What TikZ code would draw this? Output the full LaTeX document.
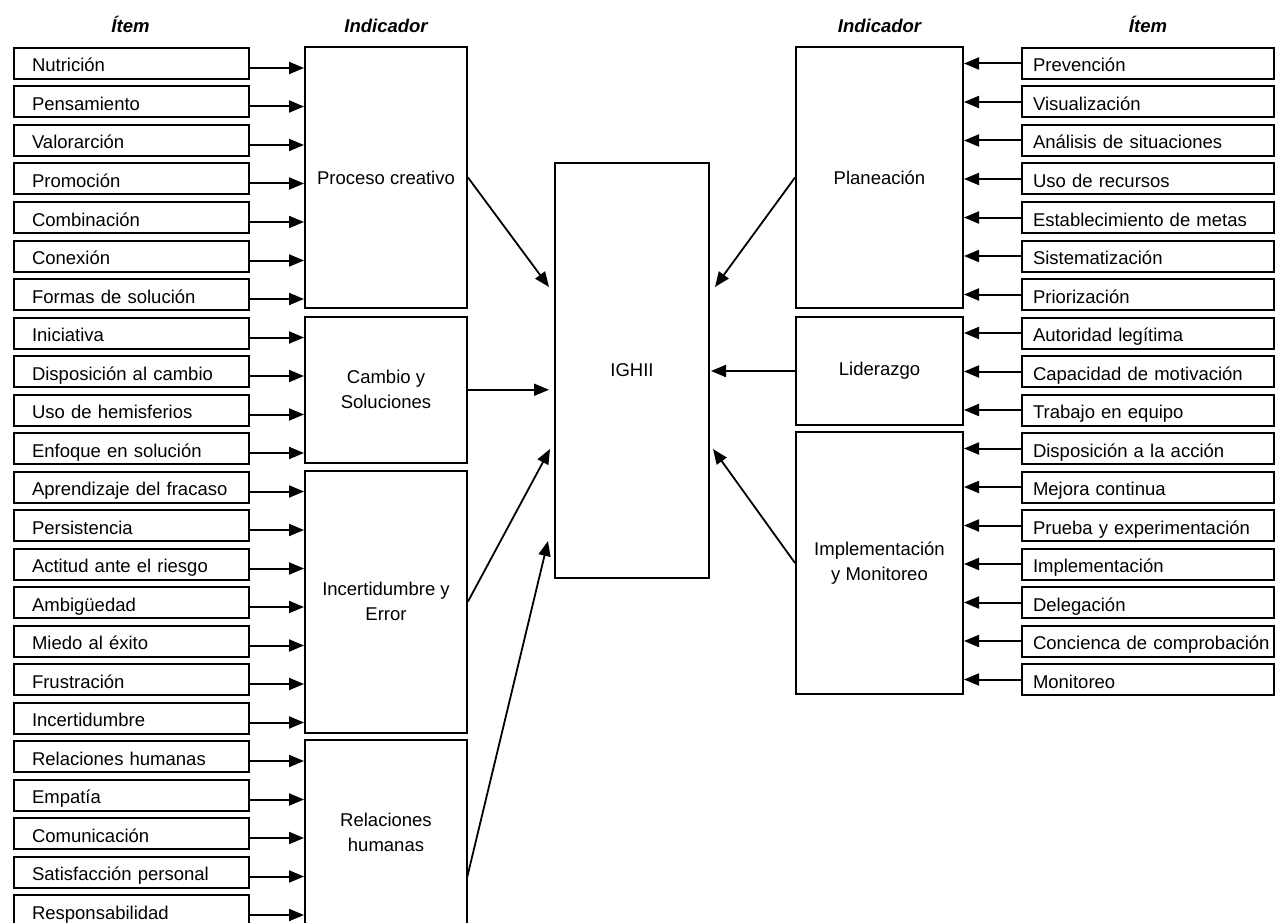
\documentclass[tikz,border=0pt]{standalone}
\usepackage{fontspec}
\setmainfont{Liberation Sans}
\usetikzlibrary{arrows.meta}
\begin{document}
\begin{tikzpicture}[x=1pt,y=-1pt,
  box/.style={draw, line width=2pt},
  lbl/.style={font=\fontsize{18.5}{25}\selectfont},
  itemL/.style={box, lbl, anchor=north west, minimum height=31pt, inner ysep=0pt, inner xsep=18pt, text width=199pt, align=left, text height=19pt, text depth=2pt},
  itemR/.style={box, lbl, anchor=north west, minimum height=31pt, inner ysep=0pt, inner xsep=11pt, text width=230pt, align=left, text height=19pt, text depth=2pt},
  ind/.style={box, lbl, align=center, inner sep=0pt},
  hdr/.style={anchor=base, font=\fontsize{18.5}{20}\selectfont\bfseries\itshape},
  arr/.style={line width=2pt, -{Triangle[length=15pt,width=12pt]}},
  conn/.style={line width=1.8pt, -{Triangle[length=15pt,width=12pt]}}]
\useasboundingbox (0,0) rectangle (1275,923);
\clip (0,0) rectangle (1275,923);

% headers
\node[hdr] (h1) at (130.5,33) {Ítem};
\node[hdr] (h2) at (386,33) {Indicador};
\node[hdr] (h3) at (879.5,33) {Indicador};
\node[hdr] (h4) at (1148,33) {Ítem};

% indicators
\node[ind, minimum width=162pt, minimum height=261pt] (PC) at (386,177.5) {Proceso creativo};
\node[ind, minimum width=162pt, minimum height=146.5pt] (CS) at (386,389.75) {Cambio y\\Soluciones};
\node[ind, minimum width=162pt, minimum height=262pt] (IE) at (386,601.5) {Incertidumbre y\\Error};
\node[ind, minimum width=162pt, minimum height=185pt] (RH) at (386,832.5) {Relaciones\\humanas};
\node[ind, minimum width=167pt, minimum height=261pt] (PL) at (879.5,177.5) {Planeación};
\node[ind, minimum width=167pt, minimum height=108pt] (LI) at (879.5,370.5) {Liderazgo};
\node[ind, minimum width=167pt, minimum height=262pt] (IM) at (879.5,563) {Implementación\\y Monitoreo};
\node[ind, minimum width=154pt, minimum height=415pt] (IG) at (632,370.5) {IGHII};

% left items
\foreach \t/\g [count=\i from 0] in {Nutrición/PC, Pensamiento/PC, Valorarción/PC, Promoción/PC, Combinación/PC, Conexión/PC, Formas de solución/PC,
  Iniciativa/CS, Disposición al cambio/CS, Uso de hemisferios/CS, Enfoque en solución/CS,
  Aprendizaje del fracaso/IE, Persistencia/IE, Actitud ante el riesgo/IE, Ambigüedad/IE, Miedo al éxito/IE, Frustración/IE, Incertidumbre/IE,
  Relaciones humanas/RH, Empatía/RH, Comunicación/RH, Satisfacción personal/RH, Responsabilidad/RH}
{
  \node[itemL] (L\i) at (13,47+38.5*\i) {\mbox{\t}};
  \draw[arr] ([yshift=-4.5pt]L\i.east) -- ([yshift=-4.5pt]L\i.east -| \g.west);
}

% right items
\foreach \t/\g [count=\i from 0] in {Prevención/PL, Visualización/PL, Análisis de situaciones/PL, Uso de recursos/PL, Establecimiento de metas/PL, Sistematización/PL, Priorización/PL,
  Autoridad legítima/LI, Capacidad de motivación/LI, Trabajo en equipo/LI,
  Disposición a la acción/IM, Mejora continua/IM, Prueba y experimentación/IM, Implementación/IM, Delegación/IM, Concienca de comprobación/IM, Monitoreo/IM}
{
  \node[itemR] (R\i) at (1021,47+38.5*\i) {\mbox{\t}};
  \draw[arr] (R\i.west) -- (R\i.west -| \g.east);
}

% connectors to IGHII
\coordinate (tPC) at (549,287);
\coordinate (tCS) at (549,389.75);
\coordinate (tIE) at (550,449);
\coordinate (tRH) at (548,541);
\coordinate (sRH) at (467,878);
\coordinate (tPL) at (715,287);
\coordinate (tLI) at (711,371);
\coordinate (tIM) at (713,449);
\draw[conn] (PC.east) -- (tPC);
\draw[conn] (CS.east) -- (tCS);
\draw[conn] (IE.east) -- (tIE);
\draw[conn] (sRH) -- (tRH);
\draw[conn] (PL.west) -- (tPL);
\draw[arr] ([yshift=-0.5pt]LI.west) -- (tLI);
\draw[conn] (IM.west) -- (tIM);
\end{tikzpicture}
\end{document}
